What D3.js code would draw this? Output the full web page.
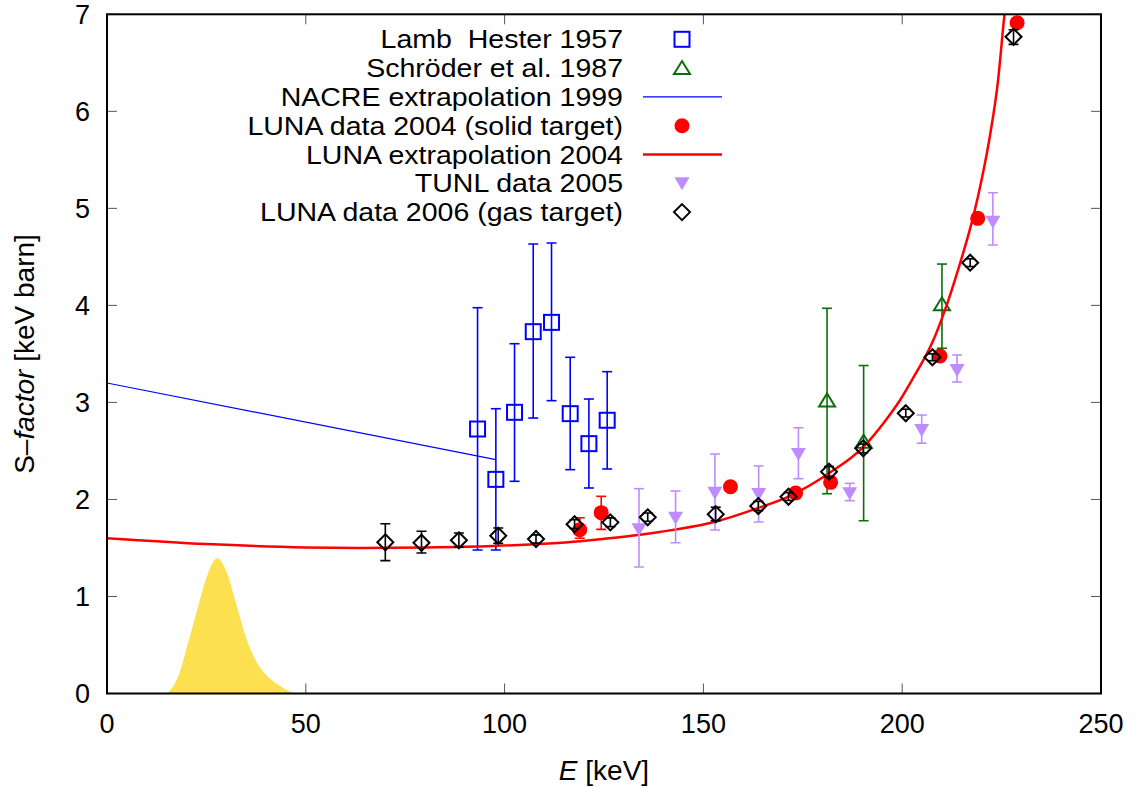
<!DOCTYPE html>
<html>
<head>
<meta charset="utf-8">
<script src="https://cdn.jsdelivr.net/npm/d3@7"></script>
<style>
  html, body { margin: 0; padding: 0; background: #fff; }
  svg { display: block; font-family: "Liberation Sans", Arial, Helvetica, sans-serif; }
  text { white-space: pre; }
</style>
</head>
<body>
<svg id="chart" width="1135" height="788"></svg>
<script>
// ---------------- DATA ----------------
const xTicks = [0, 50, 100, 150, 200, 250];
const yTicks = [0, 1, 2, 3, 4, 5, 6, 7];

// Lamb & Hester 1957
const lambE  = [93.2, 97.8, 102.5, 107.2, 111.8, 116.5, 121.2, 125.8];
const lambS  = [2.726, 2.207, 2.898, 3.729, 3.825, 2.884, 2.575, 2.816];
const lambLo = [1.479, 1.479, 2.187, 2.839, 3.018, 2.307, 2.118, 2.314];
const lambHi = [3.976, 2.935, 3.605, 4.633, 4.643, 3.465, 3.035, 3.317];

// Schröder et al. 1987
const schE  = [181.1, 190.3, 210.0];
const schS  = [3.02, 2.595, 4.011];
const schLo = [2.059, 1.781, 3.558];
const schHi = [3.97, 3.38, 4.426];

// NACRE extrapolation 1999
const nacreE = [0, 97.8];
const nacreS = [3.2, 2.41];

// LUNA data 2004 (solid target)
const luna04E  = [118.9, 124.3, 156.8, 173.2, 182.0, 209.5, 219.0, 228.9];
const luna04S  = [1.688, 1.864, 2.131, 2.066, 2.176, 3.478, 4.897, 6.913];
const luna04Lo = [1.60, 1.692, 2.10, 2.04, 2.15, 3.45, 4.86, 6.89];
const luna04Hi = [1.812, 2.032, 2.16, 2.09, 2.20, 3.51, 4.94, 6.94];

// LUNA extrapolation 2004
const extrE = [0, 25, 50, 63.5, 80, 97, 119, 124, 134, 139, 153, 164, 171.4, 181.6, 190.2, 196.1, 199.4, 203, 207.6, 210.3, 214.3, 217.9, 220, 222.2, 224.0, 225.6, 226.5];
const extrS = [1.60, 1.54, 1.505, 1.50, 1.505, 1.52, 1.57, 1.59, 1.635, 1.665, 1.77, 1.915, 2.03, 2.27, 2.54, 2.83, 3.02, 3.27, 3.62, 3.90, 4.40, 4.92, 5.30, 5.78, 6.28, 6.95, 7.3];

// TUNL data 2005
const tunlE  = [133.8, 143.0, 152.9, 163.9, 173.9, 186.8, 204.9, 213.8, 222.8];
const tunlS  = [1.692, 1.812, 2.07, 2.056, 2.468, 2.063, 2.716, 3.334, 4.862];
const tunlLo = [1.304, 1.554, 1.685, 1.767, 2.214, 1.987, 2.58, 3.21, 4.622];
const tunlHi = [2.111, 2.087, 2.468, 2.345, 2.739, 2.166, 2.87, 3.489, 5.161];

// LUNA data 2006 (gas target)
const luna06E  = [70.0, 79.1, 88.5, 98.4, 107.9, 117.6, 126.6, 136.0, 153.1, 163.8, 171.4, 181.6, 190.2, 200.9, 207.6, 217.1, 228.0];
const luna06S  = [1.558, 1.554, 1.579, 1.626, 1.592, 1.744, 1.764, 1.816, 1.847, 1.932, 2.028, 2.286, 2.527, 2.888, 3.465, 4.44, 6.769];
const luna06Lo = [1.369, 1.448, 1.507, 1.548, 1.55, 1.70, 1.72, 1.775, 1.78, 1.885, 1.99, 2.23, 2.48, 2.85, 3.43, 4.40, 6.69];
const luna06Hi = [1.75, 1.672, 1.654, 1.706, 1.635, 1.79, 1.81, 1.86, 1.92, 1.98, 2.07, 2.34, 2.57, 2.93, 3.50, 4.48, 6.84];

// Gamow peak (shaded)
const gamowE = [15, 16, 18.2, 20.6, 22.9, 25.4, 26.6, 27.7, 28.9, 30.2, 32.7, 35.2, 37.4, 39.6, 42, 44.2, 46, 47.6];
const gamowS = [0, 0.036, 0.208, 0.551, 0.895, 1.239, 1.35, 1.393, 1.35, 1.239, 0.895, 0.551, 0.34, 0.208, 0.12, 0.06, 0.02, 0];

const legendLabels = ["Lamb  Hester 1957", "Schröder et al. 1987", "NACRE extrapolation 1999",
  "LUNA data 2004 (solid target)", "LUNA extrapolation 2004", "TUNL data 2005", "LUNA data 2006 (gas target)"];

// ---------------- STYLE ----------------
const C = { blue: "#0000ff", green: "#0a6e0a", red: "#ff0000", purple: "#bf8cff", black: "#000", gold: "#fde04f" };
const FS = 27, FSL = 25.5, FSA = 28, LEG_STRETCH = 1.118;

const svg = d3.select("#chart");
const L = 107, R = 1101, T = 14.3, B = 693.5;
const x = d3.scaleLinear().domain([0, 250]).range([L, R]);
const y = d3.scaleLinear().domain([0, 7]).range([B, T]);

svg.append("defs").append("clipPath").attr("id", "clip")
  .append("rect").attr("x", L).attr("y", T).attr("width", R - L).attr("height", B - T);

const plot = svg.append("g").attr("clip-path", "url(#clip)");

// Gamow peak
const gam = gamowE.map((e, i) => [e, gamowS[i]]);
plot.append("path").datum(gam)
  .attr("fill", C.gold)
  .attr("d", d3.area().x(d => x(d[0])).y0(y(0)).y1(d => y(d[1])).curve(d3.curveMonotoneX));

// ticks (inside, mirrored)
const tg = svg.append("g").attr("stroke", "#555").attr("stroke-width", 1);
xTicks.forEach(t => {
  tg.append("line").attr("x1", x(t)).attr("x2", x(t)).attr("y1", B).attr("y2", B - 10);
  tg.append("line").attr("x1", x(t)).attr("x2", x(t)).attr("y1", T).attr("y2", T + 10);
});
yTicks.forEach(t => {
  tg.append("line").attr("x1", L).attr("x2", L + 10).attr("y1", y(t)).attr("y2", y(t));
  tg.append("line").attr("x1", R).attr("x2", R - 10).attr("y1", y(t)).attr("y2", y(t));
});

// marker helpers
function square(g, cx, cy, col) {
  g.append("rect").attr("x", cx - 7.5).attr("y", cy - 7.5).attr("width", 15).attr("height", 15)
    .attr("fill", "none").attr("stroke", col).attr("stroke-width", 2);
}
function triUp(g, cx, cy, col) {
  g.append("path").attr("d", `M${cx - 8},${cy + 6}L${cx + 8},${cy + 6}L${cx},${cy - 7}Z`)
    .attr("fill", "none").attr("stroke", col).attr("stroke-width", 2);
}
function triDown(g, cx, cy, col) {
  g.append("path").attr("d", `M${cx - 7.5},${cy - 6}L${cx + 7.5},${cy - 6}L${cx},${cy + 7}Z`)
    .attr("fill", col).attr("stroke", "none");
}
function circle(g, cx, cy, col) {
  g.append("circle").attr("cx", cx).attr("cy", cy).attr("r", 7.5).attr("fill", col);
}
function diamond(g, cx, cy, col) {
  g.append("path").attr("d", `M${cx},${cy - 8}L${cx + 8},${cy}L${cx},${cy + 8}L${cx - 8},${cy}Z`)
    .attr("fill", "none").attr("stroke", col).attr("stroke-width", 2);
}
function errbars(g, E, lo, hi, col, w) {
  E.forEach((e, i) => {
    const px = x(e);
    g.append("line").attr("x1", px).attr("x2", px).attr("y1", y(lo[i])).attr("y2", y(hi[i]))
      .attr("stroke", col).attr("stroke-width", w);
    [lo[i], hi[i]].forEach(v => g.append("line").attr("x1", px - 5).attr("x2", px + 5)
      .attr("y1", y(v)).attr("y2", y(v)).attr("stroke", col).attr("stroke-width", w));
  });
}

// Lamb Hester
const gL = plot.append("g");
errbars(gL, lambE, lambLo, lambHi, C.blue, 1.6);
lambE.forEach((e, i) => square(gL, x(e), y(lambS[i]), C.blue));

// Schröder
const gS = plot.append("g");
errbars(gS, schE, schLo, schHi, C.green, 1.6);
schE.forEach((e, i) => triUp(gS, x(e), y(schS[i]), C.green));

// NACRE
plot.append("path").datum(nacreE.map((e, i) => [e, nacreS[i]]))
  .attr("fill", "none").attr("stroke", C.blue).attr("stroke-width", 1.2)
  .attr("d", d3.line().x(d => x(d[0])).y(d => y(d[1])));

// LUNA 2004
const g4 = plot.append("g");
errbars(g4, luna04E, luna04Lo, luna04Hi, C.red, 1.6);
luna04E.forEach((e, i) => circle(g4, x(e), y(luna04S[i]), C.red));

// LUNA extrapolation
plot.append("path").datum(extrE.map((e, i) => [e, extrS[i]]))
  .attr("fill", "none").attr("stroke", C.red).attr("stroke-width", 2.5)
  .attr("d", d3.line().x(d => x(d[0])).y(d => y(d[1])).curve(d3.curveMonotoneX));

// TUNL
const gT = plot.append("g");
errbars(gT, tunlE, tunlLo, tunlHi, C.purple, 1.6);
tunlE.forEach((e, i) => triDown(gT, x(e), y(tunlS[i]), C.purple));

// LUNA 2006
const g6 = plot.append("g");
errbars(g6, luna06E, luna06Lo, luna06Hi, C.black, 1.6);
luna06E.forEach((e, i) => diamond(g6, x(e), y(luna06S[i]), C.black));

// frame
svg.append("rect").attr("x", L).attr("y", T).attr("width", R - L).attr("height", B - T)
  .attr("fill", "none").attr("stroke", "#000").attr("stroke-width", 2);

// tick labels
const lab = svg.append("g").attr("font-size", FS).attr("fill", "#000");
xTicks.forEach(t => lab.append("text").attr("x", x(t)).attr("y", 733).attr("text-anchor", "middle").text(t));
yTicks.forEach(t => lab.append("text").attr("x", 90).attr("y", y(t) + 9.5).attr("text-anchor", "end").text(t));

// axis labels
const xl = svg.append("text").attr("x", 604).attr("y", 780).attr("text-anchor", "middle").attr("font-size", FSA);
xl.append("tspan").attr("font-style", "italic").text("E");
xl.append("tspan").text(" [keV]");
const yl = svg.append("text").attr("transform", "translate(34,354) rotate(-90)")
  .attr("text-anchor", "middle").attr("font-size", FSA);
yl.append("tspan").text("S–");
yl.append("tspan").attr("font-style", "italic").text("factor");
yl.append("tspan").text(" [keV barn]");

// legend
const lg = svg.append("g");
const rowY = i => 39.3 + i * 28.8;
legendLabels.forEach((t, i) => {
  const tx = lg.append("text").attr("x", 623).attr("y", rowY(i) + 9).attr("text-anchor", "end")
    .attr("xml:space", "preserve").attr("font-size", FSL).text(t);
  const w = tx.node().getComputedTextLength();
  tx.attr("textLength", w * LEG_STRETCH).attr("lengthAdjust", "spacingAndGlyphs");
});
square(lg, 682, rowY(0), C.blue);
triUp(lg, 682, rowY(1), C.green);
lg.append("line").attr("x1", 643).attr("x2", 722).attr("y1", rowY(2)).attr("y2", rowY(2))
  .attr("stroke", C.blue).attr("stroke-width", 1.2);
circle(lg, 682, rowY(3), C.red);
lg.append("line").attr("x1", 643).attr("x2", 722).attr("y1", rowY(4)).attr("y2", rowY(4))
  .attr("stroke", C.red).attr("stroke-width", 2.5);
triDown(lg, 682, rowY(5), C.purple);
diamond(lg, 682, rowY(6), C.black);
</script>
</body>
</html>
